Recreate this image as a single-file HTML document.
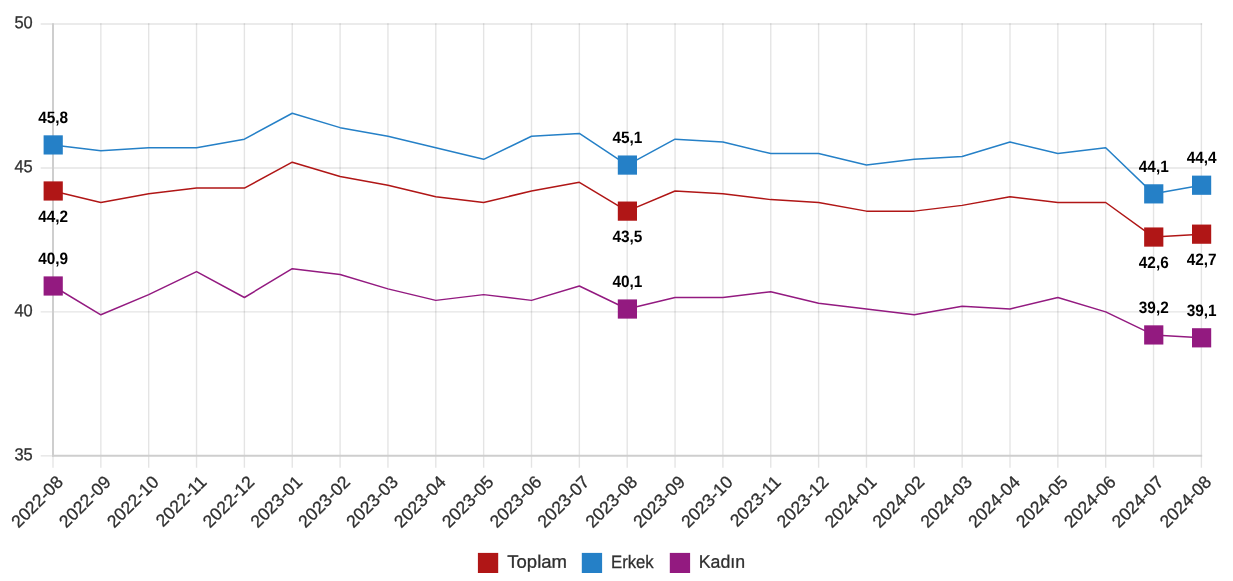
<!DOCTYPE html>
<html lang="tr"><head><meta charset="utf-8"><title>Grafik</title>
<style>
html,body{margin:0;padding:0;background:#fff;}
body{width:1233px;height:581px;overflow:hidden;}
svg{display:block;will-change:transform;transform:translateZ(0);text-rendering:geometricPrecision;}
.t{font-family:"Liberation Sans",Arial,sans-serif;fill:#2f2f2f;stroke:#333;stroke-width:0.3px;}
.d{font-family:"Liberation Sans",Arial,sans-serif;font-weight:bold;font-size:16.5px;fill:#000;text-anchor:middle;}
</style></head><body>
<svg width="1233" height="581" viewBox="0 0 1233 581">
<rect width="1233" height="581" fill="#fff"/>
<g stroke="rgba(0,0,0,0.105)" stroke-width="1.4" fill="none">
<line x1="100.85" y1="23.25" x2="100.85" y2="467.85"/>
<line x1="148.70" y1="23.25" x2="148.70" y2="467.85"/>
<line x1="196.55" y1="23.25" x2="196.55" y2="467.85"/>
<line x1="244.40" y1="23.25" x2="244.40" y2="467.85"/>
<line x1="292.25" y1="23.25" x2="292.25" y2="467.85"/>
<line x1="340.10" y1="23.25" x2="340.10" y2="467.85"/>
<line x1="387.95" y1="23.25" x2="387.95" y2="467.85"/>
<line x1="435.80" y1="23.25" x2="435.80" y2="467.85"/>
<line x1="483.65" y1="23.25" x2="483.65" y2="467.85"/>
<line x1="531.50" y1="23.25" x2="531.50" y2="467.85"/>
<line x1="579.35" y1="23.25" x2="579.35" y2="467.85"/>
<line x1="627.20" y1="23.25" x2="627.20" y2="467.85"/>
<line x1="675.05" y1="23.25" x2="675.05" y2="467.85"/>
<line x1="722.90" y1="23.25" x2="722.90" y2="467.85"/>
<line x1="770.75" y1="23.25" x2="770.75" y2="467.85"/>
<line x1="818.60" y1="23.25" x2="818.60" y2="467.85"/>
<line x1="866.45" y1="23.25" x2="866.45" y2="467.85"/>
<line x1="914.30" y1="23.25" x2="914.30" y2="467.85"/>
<line x1="962.15" y1="23.25" x2="962.15" y2="467.85"/>
<line x1="1010.00" y1="23.25" x2="1010.00" y2="467.85"/>
<line x1="1057.85" y1="23.25" x2="1057.85" y2="467.85"/>
<line x1="1105.70" y1="23.25" x2="1105.70" y2="467.85"/>
<line x1="1153.55" y1="23.25" x2="1153.55" y2="467.85"/>
<line x1="1201.40" y1="23.25" x2="1201.40" y2="467.85"/>
<line x1="40.70" y1="24.00" x2="1202.15" y2="24.00"/>
<line x1="40.70" y1="167.95" x2="1202.15" y2="167.95"/>
<line x1="40.70" y1="311.90" x2="1202.15" y2="311.90"/>
<line x1="40.70" y1="455.85" x2="53.00" y2="455.85"/>
<line x1="53.00" y1="455.85" x2="53.00" y2="467.85"/>
</g>
<g stroke="#cecece" stroke-width="2" fill="none">
<line x1="53.00" y1="23.25" x2="53.00" y2="456.85"/>
<line x1="52.00" y1="455.85" x2="1202.15" y2="455.85"/>
</g>
<g class="t" font-size="17.3" text-anchor="end">
<text transform="rotate(0.03 32.70 28.35)" x="32.70" y="28.35" textLength="18.3" lengthAdjust="spacingAndGlyphs">50</text>
<text transform="rotate(0.03 32.70 172.30)" x="32.70" y="172.30" textLength="18.3" lengthAdjust="spacingAndGlyphs">45</text>
<text transform="rotate(0.03 32.70 316.25)" x="32.70" y="316.25" textLength="18.3" lengthAdjust="spacingAndGlyphs">40</text>
<text transform="rotate(0.03 32.70 460.20)" x="32.70" y="460.20" textLength="18.3" lengthAdjust="spacingAndGlyphs">35</text>
</g>
<g class="t" font-size="17.6" text-anchor="end">
<text transform="translate(59.90,478.85) rotate(-45)" x="0" y="6">2022-08</text>
<text transform="translate(107.75,478.85) rotate(-45)" x="0" y="6">2022-09</text>
<text transform="translate(155.60,478.85) rotate(-45)" x="0" y="6">2022-10</text>
<text transform="translate(203.45,478.85) rotate(-45)" x="0" y="6">2022-11</text>
<text transform="translate(251.30,478.85) rotate(-45)" x="0" y="6">2022-12</text>
<text transform="translate(299.15,478.85) rotate(-45)" x="0" y="6">2023-01</text>
<text transform="translate(347.00,478.85) rotate(-45)" x="0" y="6">2023-02</text>
<text transform="translate(394.85,478.85) rotate(-45)" x="0" y="6">2023-03</text>
<text transform="translate(442.70,478.85) rotate(-45)" x="0" y="6">2023-04</text>
<text transform="translate(490.55,478.85) rotate(-45)" x="0" y="6">2023-05</text>
<text transform="translate(538.40,478.85) rotate(-45)" x="0" y="6">2023-06</text>
<text transform="translate(586.25,478.85) rotate(-45)" x="0" y="6">2023-07</text>
<text transform="translate(634.10,478.85) rotate(-45)" x="0" y="6">2023-08</text>
<text transform="translate(681.95,478.85) rotate(-45)" x="0" y="6">2023-09</text>
<text transform="translate(729.80,478.85) rotate(-45)" x="0" y="6">2023-10</text>
<text transform="translate(777.65,478.85) rotate(-45)" x="0" y="6">2023-11</text>
<text transform="translate(825.50,478.85) rotate(-45)" x="0" y="6">2023-12</text>
<text transform="translate(873.35,478.85) rotate(-45)" x="0" y="6">2024-01</text>
<text transform="translate(921.20,478.85) rotate(-45)" x="0" y="6">2024-02</text>
<text transform="translate(969.05,478.85) rotate(-45)" x="0" y="6">2024-03</text>
<text transform="translate(1016.90,478.85) rotate(-45)" x="0" y="6">2024-04</text>
<text transform="translate(1064.75,478.85) rotate(-45)" x="0" y="6">2024-05</text>
<text transform="translate(1112.60,478.85) rotate(-45)" x="0" y="6">2024-06</text>
<text transform="translate(1160.45,478.85) rotate(-45)" x="0" y="6">2024-07</text>
<text transform="translate(1208.30,478.85) rotate(-45)" x="0" y="6">2024-08</text>
</g>
<polyline points="53.00,190.98 100.85,202.50 148.70,193.86 196.55,188.10 244.40,188.10 292.25,162.19 340.10,176.59 387.95,185.22 435.80,196.74 483.65,202.50 531.50,190.98 579.35,182.34 627.20,211.13 675.05,190.98 722.90,193.86 770.75,199.62 818.60,202.50 866.45,211.13 914.30,211.13 962.15,205.38 1010.00,196.74 1057.85,202.50 1105.70,202.50 1153.55,237.05 1201.40,234.17" fill="none" stroke="#b01616" stroke-width="1.5" stroke-linejoin="round"/>
<polyline points="53.00,144.92 100.85,150.68 148.70,147.80 196.55,147.80 244.40,139.16 292.25,113.25 340.10,127.64 387.95,136.28 435.80,147.80 483.65,159.31 531.50,136.28 579.35,133.40 627.20,165.07 675.05,139.16 722.90,142.04 770.75,153.56 818.60,153.56 866.45,165.07 914.30,159.31 962.15,156.43 1010.00,142.04 1057.85,153.56 1105.70,147.80 1153.55,193.86 1201.40,185.22" fill="none" stroke="#2580c7" stroke-width="1.5" stroke-linejoin="round"/>
<polyline points="53.00,285.99 100.85,314.78 148.70,294.63 196.55,271.59 244.40,297.50 292.25,268.72 340.10,274.47 387.95,288.87 435.80,300.38 483.65,294.63 531.50,300.38 579.35,285.99 627.20,309.02 675.05,297.50 722.90,297.50 770.75,291.75 818.60,303.26 866.45,309.02 914.30,314.78 962.15,306.14 1010.00,309.02 1057.85,297.50 1105.70,311.90 1153.55,334.93 1201.40,337.81" fill="none" stroke="#931a80" stroke-width="1.5" stroke-linejoin="round"/>
<rect x="43.60" y="181.38" width="19.20" height="19.20" fill="#b01616"/>
<text transform="rotate(0.03 53.20 221.68)" x="53.20" y="221.68" class="d" textLength="29.9" lengthAdjust="spacingAndGlyphs">44,2</text>
<rect x="617.80" y="201.53" width="19.20" height="19.20" fill="#b01616"/>
<text transform="rotate(0.03 627.40 241.83)" x="627.40" y="241.83" class="d" textLength="29.9" lengthAdjust="spacingAndGlyphs">43,5</text>
<rect x="1144.15" y="227.45" width="19.20" height="19.20" fill="#b01616"/>
<text transform="rotate(0.03 1153.75 267.75)" x="1153.75" y="267.75" class="d" textLength="29.9" lengthAdjust="spacingAndGlyphs">42,6</text>
<rect x="1192.00" y="224.57" width="19.20" height="19.20" fill="#b01616"/>
<text transform="rotate(0.03 1201.60 264.87)" x="1201.60" y="264.87" class="d" textLength="29.9" lengthAdjust="spacingAndGlyphs">42,7</text>
<rect x="43.60" y="135.32" width="19.20" height="19.20" fill="#2580c7"/>
<text transform="rotate(0.03 53.20 122.72)" x="53.20" y="122.72" class="d" textLength="29.9" lengthAdjust="spacingAndGlyphs">45,8</text>
<rect x="617.80" y="155.47" width="19.20" height="19.20" fill="#2580c7"/>
<text transform="rotate(0.03 627.40 142.87)" x="627.40" y="142.87" class="d" textLength="29.9" lengthAdjust="spacingAndGlyphs">45,1</text>
<rect x="1144.15" y="184.26" width="19.20" height="19.20" fill="#2580c7"/>
<text transform="rotate(0.03 1153.75 171.66)" x="1153.75" y="171.66" class="d" textLength="29.9" lengthAdjust="spacingAndGlyphs">44,1</text>
<rect x="1192.00" y="175.62" width="19.20" height="19.20" fill="#2580c7"/>
<text transform="rotate(0.03 1201.60 163.02)" x="1201.60" y="163.02" class="d" textLength="29.9" lengthAdjust="spacingAndGlyphs">44,4</text>
<rect x="43.60" y="276.39" width="19.20" height="19.20" fill="#931a80"/>
<text transform="rotate(0.03 53.20 263.79)" x="53.20" y="263.79" class="d" textLength="29.9" lengthAdjust="spacingAndGlyphs">40,9</text>
<rect x="617.80" y="299.42" width="19.20" height="19.20" fill="#931a80"/>
<text transform="rotate(0.03 627.40 286.82)" x="627.40" y="286.82" class="d" textLength="29.9" lengthAdjust="spacingAndGlyphs">40,1</text>
<rect x="1144.15" y="325.33" width="19.20" height="19.20" fill="#931a80"/>
<text transform="rotate(0.03 1153.75 312.73)" x="1153.75" y="312.73" class="d" textLength="29.9" lengthAdjust="spacingAndGlyphs">39,2</text>
<rect x="1192.00" y="328.21" width="19.20" height="19.20" fill="#931a80"/>
<text transform="rotate(0.03 1201.60 315.61)" x="1201.60" y="315.61" class="d" textLength="29.9" lengthAdjust="spacingAndGlyphs">39,1</text>
<g>
<rect x="477.9" y="552.9" width="20.3" height="20.1" fill="#b01616"/>
<text transform="rotate(0.03 507.30 567.75)" x="507.30" y="567.75" class="t" font-size="18" textLength="59.7" lengthAdjust="spacingAndGlyphs">Toplam</text>
<rect x="581.8" y="552.9" width="20.3" height="20.1" fill="#2580c7"/>
<text transform="rotate(0.03 611.00 567.75)" x="611.00" y="567.75" class="t" font-size="18" textLength="42.7" lengthAdjust="spacingAndGlyphs">Erkek</text>
<rect x="669.8" y="552.9" width="20.3" height="20.1" fill="#931a80"/>
<text transform="rotate(0.03 698.80 567.75)" x="698.80" y="567.75" class="t" font-size="18" textLength="46.3" lengthAdjust="spacingAndGlyphs">Kadın</text>
</g>
</svg>
</body></html>
